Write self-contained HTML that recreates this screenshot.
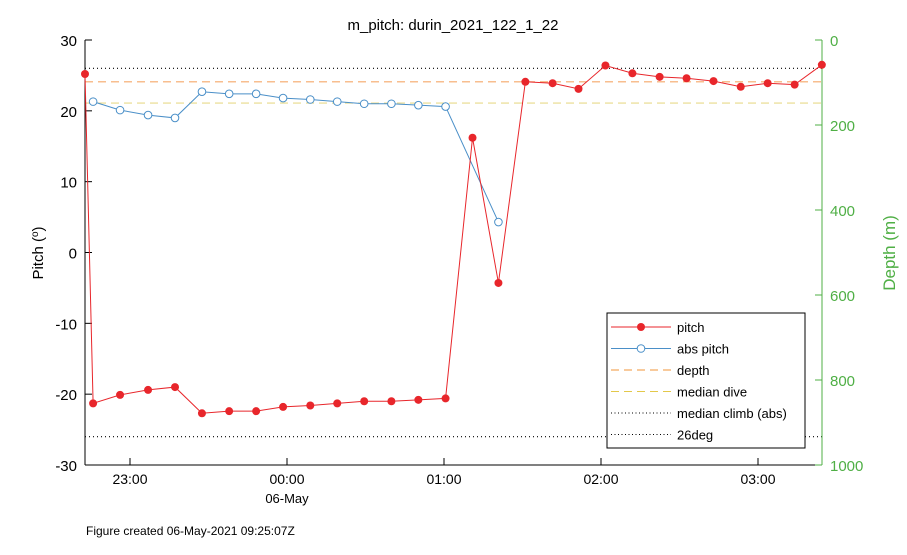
<!DOCTYPE html>
<html><head><meta charset="utf-8"><style>
body{margin:0;background:#fff;font-family:"Liberation Sans",sans-serif;}
svg text{font-family:"Liberation Sans",sans-serif;}
</style></head><body>
<svg id="c" width="907" height="550" viewBox="0 0 907 550"></svg>
<script>
// minutes since 22:00 on 05-May
const pitchTimes=[42.8,45.9,56.2,66.9,77.2,87.5,97.9,108.2,118.5,128.9,139.2,149.5,159.9,170.2,180.6,190.9,200.8,211.1,221.5,231.4,241.7,252.0,262.4,272.7,283.0,293.4,303.7,314.0,324.4];
const pitchValues=[25.2,-21.3,-20.1,-19.4,-19.0,-22.7,-22.4,-22.4,-21.8,-21.6,-21.3,-21.0,-21.0,-20.8,-20.6,16.2,-4.3,24.1,23.9,23.1,26.4,25.3,24.8,24.6,24.2,23.4,23.9,23.7,26.5];
const absTimes=[45.9,56.2,66.9,77.2,87.5,97.9,108.2,118.5,128.9,139.2,149.5,159.9,170.2,180.6,200.8];
const absValues=[21.3,20.1,19.4,19.0,22.7,22.4,22.4,21.8,21.6,21.3,21.0,21.0,20.8,20.6,4.3];
const refLines=[{v:24.1,name:'median-climb-line',c:'#f5a86a',d:'8,5'},{v:21.1,name:'median-dive-line',c:'#e8d98a',d:'8,5'},{v:26,name:'26deg-line',c:'#000',d:'1,3'},{v:-26,name:'minus-26deg-line',c:'#000',d:'1,3'}];
const yTicks=[30,20,10,0,-10,-20,-30];
const depthTicks=[0,200,400,600,800,1000];
const xTickTimes=[60,120,180,240,300];
const xTickLabels=['23:00','00:00','01:00','02:00','03:00'];

const L=85,R=822,T=40,B=465;
const x=t=>130+(t-60)*157/60;
const y=v=>T+(30-v)*(B-T)/60;
const yd=d=>T+d*(B-T)/1000;
const svg=document.getElementById('c');
const NS='http://www.w3.org/2000/svg';
function mk(tag,attrs,parent){const e=document.createElementNS(NS,tag);for(const k in attrs)e.setAttribute(k,attrs[k]);(parent||svg).appendChild(e);return e;}
function txt(s,attrs){const e=mk('text',attrs);e.textContent=s;return e;}

let t=txt('m_pitch: durin_2021_122_1_22',{x:453,y:30,'text-anchor':'middle','font-size':15});


refLines.forEach(r=>{const l=mk('line',{x1:L,x2:R,y1:y(r.v),y2:y(r.v),stroke:r.c,'stroke-width':1.2,'stroke-dasharray':r.d});
});

// axes
let ax=mk('line',{x1:L,x2:L,y1:T,y2:B,stroke:'#000'});
let ax2=mk('line',{x1:R,x2:R,y1:T,y2:B,stroke:'#4faf45'});
let ax3=mk('line',{x1:L,x2:R,y1:B,y2:B,stroke:'#000'});
yTicks.forEach(v=>{mk('line',{x1:L,x2:L+7,y1:y(v),y2:y(v),stroke:'#000'});
const e=txt(String(v),{x:L-8,y:y(v)+6,'text-anchor':'end','font-size':15});});
depthTicks.forEach(d=>{mk('line',{x1:R-7,x2:R,y1:yd(d),y2:yd(d),stroke:'#4faf45'});
const e=txt(String(d),{x:R+8,y:yd(d)+6,'font-size':15,fill:'#4faf45'});});
xTickTimes.forEach((tt,i)=>{mk('line',{x1:x(tt),x2:x(tt),y1:B,y2:B-7,stroke:'#000'});
const e=txt(xTickLabels[i],{x:x(tt),y:B+19,'text-anchor':'middle','font-size':14});});
t=txt('06-May',{x:x(120),y:B+38,'text-anchor':'middle','font-size':13});

t=mk('text',{transform:'translate(43,253) rotate(-90)','text-anchor':'middle','font-size':15});
t.innerHTML='Pitch (<tspan baseline-shift="super" font-size="10">o</tspan>)';
t=txt('Depth (m)',{transform:'translate(895,253) rotate(-90)','text-anchor':'middle','font-size':17,fill:'#4faf45'});
t=txt('Figure created 06-May-2021 09:25:07Z',{x:86,y:535,'font-size':12});

// series
let pl=mk('polyline',{points:absTimes.map((tt,i)=>x(tt)+','+y(absValues[i])).join(' '),fill:'none',stroke:'#4a8fc8','stroke-width':1});

absTimes.forEach((tt,i)=>{const c=mk('circle',{cx:x(tt),cy:y(absValues[i]),r:3.8,fill:'#fff',stroke:'#4a8fc8','stroke-width':1});
});
pl=mk('polyline',{points:pitchTimes.map((tt,i)=>x(tt)+','+y(pitchValues[i])).join(' '),fill:'none',stroke:'#e8262b','stroke-width':1});

pitchTimes.forEach((tt,i)=>{const c=mk('circle',{cx:x(tt),cy:y(pitchValues[i]),r:4,fill:'#e8262b'});
});

// legend
const g=mk('g',{});
mk('rect',{x:607,y:313,width:198,height:135,fill:'#fff',stroke:'#000','stroke-width':1},g);
const items=[['pitch','#e8262b','','dot'],['abs pitch','#4a8fc8','','circ'],['depth','#f0953a','8,5',''],['median dive','#e3c84a','8,5',''],['median climb (abs)','#000','1,2.5',''],['26deg','#000','1,2.5','']];
items.forEach((it,i)=>{const yy=327+i*21.5;
const ge=mk('g',{},g);
mk('line',{x1:611,x2:671,y1:yy,y2:yy,stroke:it[1],'stroke-width':1,'stroke-dasharray':it[2]},ge);
if(it[3]==='dot')mk('circle',{cx:641,cy:yy,r:4,fill:it[1]},ge);
if(it[3]==='circ')mk('circle',{cx:641,cy:yy,r:3.8,fill:'#fff',stroke:it[1]},ge);
const e=mk('text',{x:677,y:yy+5,'font-size':13},ge);e.textContent=it[0];});
</script></body></html>
